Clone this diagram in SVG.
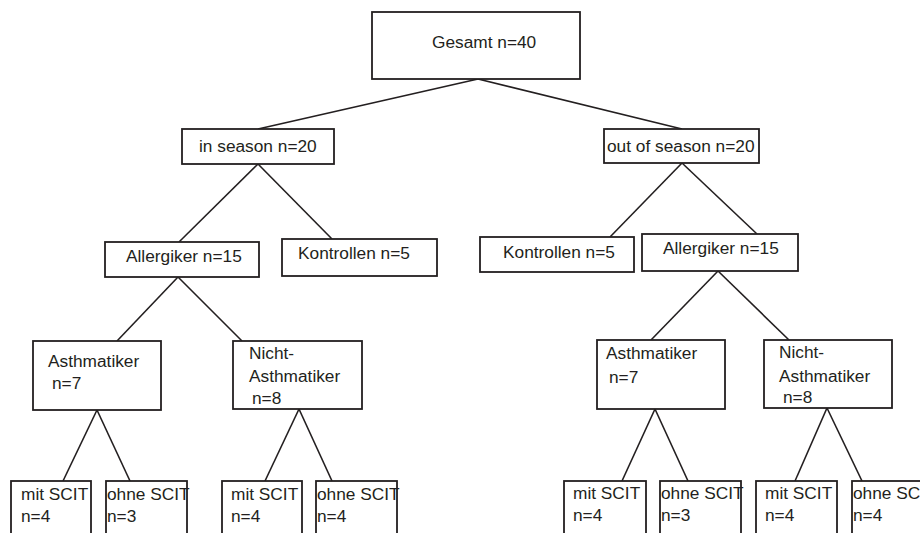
<svg xmlns="http://www.w3.org/2000/svg" width="920" height="533" viewBox="0 0 920 533">
<style>
rect{fill:#fff;stroke:#231f20;stroke-width:1.8}
line{stroke:#231f20;stroke-width:1.6}
text{font-family:"Liberation Sans",Arial,sans-serif;font-size:17.3px;fill:#231f20}
</style>
<rect x="0" y="0" width="920" height="533" style="stroke:none"/>
<g id="connectors">
<line x1="478" y1="79" x2="258" y2="129"/>
<line x1="478" y1="79" x2="682" y2="129"/>
<line x1="258" y1="164" x2="179" y2="242"/>
<line x1="258" y1="164" x2="332" y2="239"/>
<line x1="682" y1="163" x2="610" y2="237"/>
<line x1="682" y1="163" x2="757" y2="234"/>
<line x1="178" y1="277" x2="117" y2="341"/>
<line x1="178" y1="277" x2="242" y2="341"/>
<line x1="718" y1="271" x2="651" y2="340"/>
<line x1="718" y1="271" x2="789" y2="340"/>
<line x1="97" y1="410" x2="63" y2="481"/>
<line x1="97" y1="410" x2="130" y2="481"/>
<line x1="299" y1="409" x2="265" y2="481"/>
<line x1="299" y1="409" x2="332" y2="481"/>
<line x1="655" y1="409" x2="622" y2="481"/>
<line x1="655" y1="409" x2="688" y2="481"/>
<line x1="827" y1="408" x2="795" y2="481"/>
<line x1="827" y1="408" x2="862" y2="481"/>
</g>
<g id="gesamt"><rect x="372" y="12" width="208" height="67"/><text x="432" y="48">Gesamt n=40</text></g>
<g id="in-season"><rect x="182" y="129" width="152" height="35"/><text x="199" y="152">in season n=20</text></g>
<g id="out-season"><rect x="604" y="129" width="155" height="34"/><text x="607" y="152">out of season n=20</text></g>
<g id="allergiker-l"><rect x="105" y="242" width="154" height="35"/><text x="126" y="262">Allergiker n=15</text></g>
<g id="kontrollen-l"><rect x="282" y="239" width="155" height="37"/><text x="298" y="259">Kontrollen n=5</text></g>
<g id="kontrollen-r"><rect x="480" y="237" width="154" height="35"/><text x="503" y="258">Kontrollen n=5</text></g>
<g id="allergiker-r"><rect x="642" y="234" width="156" height="37"/><text x="663" y="254">Allergiker n=15</text></g>
<g id="asthma-l"><rect x="33" y="341" width="128" height="69"/><text x="48" y="367">Asthmatiker</text><text x="52" y="389">n=7</text></g>
<g id="nicht-l"><rect x="233" y="341" width="129" height="68"/><text x="249" y="359">Nicht-</text><text x="249" y="382">Asthmatiker</text><text x="252" y="404">n=8</text></g>
<g id="asthma-r"><rect x="597" y="340" width="128" height="69"/><text x="606" y="359">Asthmatiker</text><text x="609" y="383">n=7</text></g>
<g id="nicht-r"><rect x="764" y="340" width="128" height="68"/><text x="779" y="358">Nicht-</text><text x="779" y="382">Asthmatiker</text><text x="783" y="403">n=8</text></g>
<g id="mit-1"><rect x="11" y="481" width="80" height="70"/><text x="21" y="500">mit SCIT</text><text x="21" y="522">n=4</text></g>
<g id="ohne-1"><rect x="106" y="481" width="81" height="70"/><text x="107" y="500">ohne SCIT</text><text x="107" y="522">n=3</text></g>
<g id="mit-2"><rect x="222" y="481" width="80" height="70"/><text x="231" y="500">mit SCIT</text><text x="231" y="522">n=4</text></g>
<g id="ohne-2"><rect x="316" y="481" width="81" height="70"/><text x="317" y="500">ohne SCIT</text><text x="317" y="522">n=4</text></g>
<g id="mit-3"><rect x="564" y="481" width="82" height="70"/><text x="573" y="499">mit SCIT</text><text x="573" y="521">n=4</text></g>
<g id="ohne-3"><rect x="660" y="481" width="81" height="70"/><text x="661" y="499">ohne SCIT</text><text x="661" y="521">n=3</text></g>
<g id="mit-4"><rect x="756" y="481" width="81" height="70"/><text x="765" y="499">mit SCIT</text><text x="765" y="521">n=4</text></g>
<g id="ohne-4"><rect x="852" y="481" width="81" height="70"/><text x="853" y="499">ohne SCIT</text><text x="853" y="521">n=4</text></g>
</svg>
